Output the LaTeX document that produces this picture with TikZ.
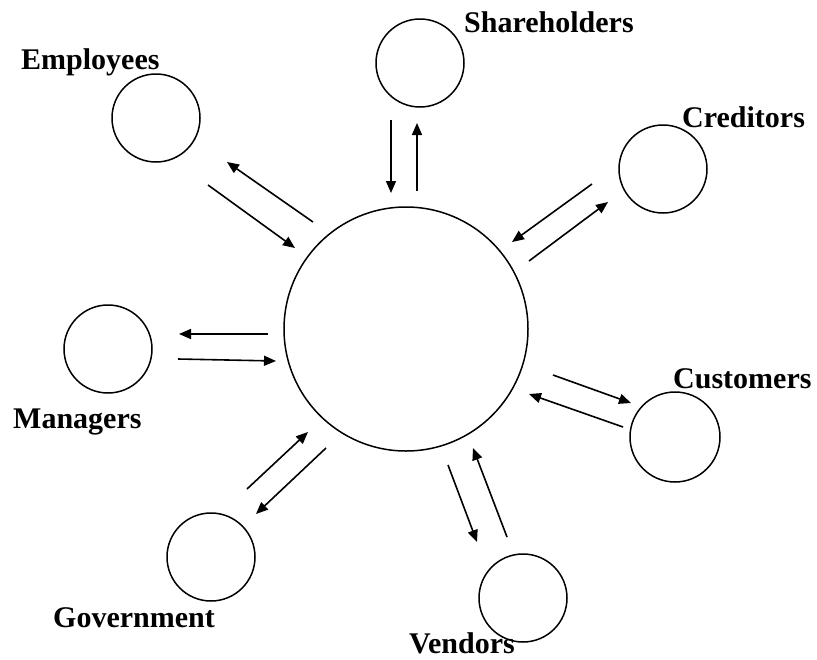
\documentclass[tikz,border=0pt]{standalone}
\usepackage{fontspec}
\setmainfont{Liberation Serif}
\usetikzlibrary{arrows.meta}
\begin{document}
\begin{tikzpicture}[x=1pt,y=-1pt,
  ring/.style={draw,circle,line width=1.5pt,inner sep=0pt},
  small/.style={ring,minimum size=88pt},
  lbl/.style={inner sep=0pt,font=\fontsize{30}{36}\selectfont\bfseries},
  flow/.style={line width=1.6pt,-{Triangle[length=12pt,width=10pt]}}]
\useasboundingbox[fill=white] (0,0) rectangle (817,659);
% circles
\node[ring,minimum size=244pt] (firm) at (406,329) {};
\node[small] (sh) at (420,63) {};
\node[small] (em) at (156,118) {};
\node[small] (cr) at (663,169) {};
\node[small] (ma) at (108,349) {};
\node[small,minimum size=90pt] (cu) at (675,437) {};
\node[small] (go) at (211,557) {};
\node[small] (ve) at (523,598) {};
% labels
\node[lbl,anchor=base west] (shl) at (464,32) {Shareholders};
\node[lbl,anchor=base west] (eml) at (21,69) {Employees};
\node[lbl,anchor=base west] (crl) at (682,127) {Creditors};
\node[lbl,anchor=base west] (mal) at (13,428) {Managers};
\node[lbl,anchor=base west] (cul) at (673,388) {Customers};
\node[lbl,anchor=base west] (gol) at (53,627) {Government};
\node[lbl,anchor=base east] (vel) at (515,653) {Vendors};
% arrow end points
\coordinate (sh1a) at (391,120); \coordinate (sh1b) at (391,193);
\coordinate (sh2a) at (417,191); \coordinate (sh2b) at (417,123);
\coordinate (em1a) at (313,222); \coordinate (em1b) at (227,162);
\coordinate (em2a) at (208,185); \coordinate (em2b) at (295,248);
\coordinate (cr1a) at (592,184); \coordinate (cr1b) at (512,242);
\coordinate (cr2a) at (529,261); \coordinate (cr2b) at (608,202);
\coordinate (ma1a) at (268,334); \coordinate (ma1b) at (179,334);
\coordinate (ma2a) at (178,359); \coordinate (ma2b) at (276,361);
\coordinate (cu1a) at (553,375); \coordinate (cu1b) at (631,403);
\coordinate (cu2a) at (623,427); \coordinate (cu2b) at (529,394);
\coordinate (go1a) at (247,489); \coordinate (go1b) at (308,432);
\coordinate (go2a) at (326,448); \coordinate (go2b) at (256,514);
\coordinate (ve1a) at (448,465); \coordinate (ve1b) at (477,542);
\coordinate (ve2a) at (507,537); \coordinate (ve2b) at (473,448);
% arrows
\foreach \n in {sh,em,cr,ma,cu,go,ve}{
  \draw[flow] (\n1a) -- (\n1b);
  \draw[flow] (\n2a) -- (\n2b);
}
\end{tikzpicture}
\end{document}
